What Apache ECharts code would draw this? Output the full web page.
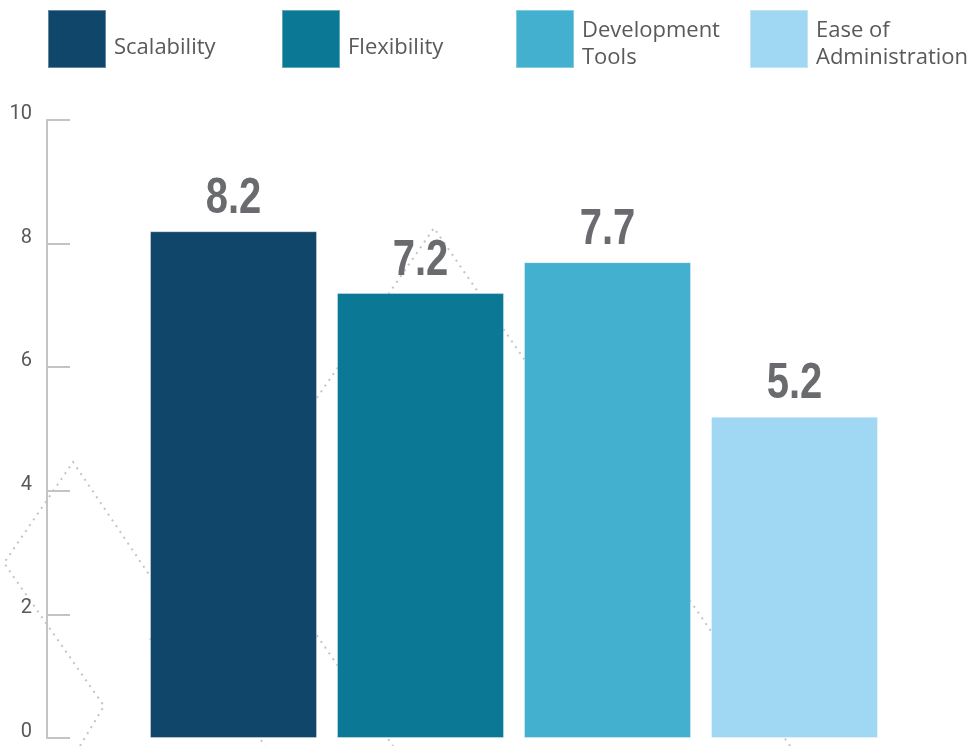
<!DOCTYPE html>
<html>
<head>
<meta charset="utf-8">
<title>Ratings</title>
<script src="https://cdn.jsdelivr.net/npm/echarts@6/dist/echarts.min.js"></script>
<style>
	html, body { margin: 0; padding: 0; background: #fff; }
	#chart { width: 974px; height: 746px; }
</style>
</head>
<body>
<div id="chart"></div>
<script>
	// data
	var categories = ['Scalability', 'Flexibility', 'Development Tools', 'Ease of Administration']
	var legendLabels = ['Scalability', 'Flexibility', 'Development\nTools', 'Ease of\nAdministration']
	var scores = [8.2, 7.2, 7.7, 5.2]
	var yTicks = [0, 2, 4, 6, 8, 10]

	var colorArr = ['#11466b', '#0b7895', '#43b0cf', '#a0d8f3']
	var legendLeft = [47, 281, 515, 749]

	var chart = echarts.init(document.getElementById('chart'))

	// one series per category, stacked so every bar sits centred in its own slot
	var seriesTemp = []
	for (var i = 0; i < categories.length; i++) {
		var row = []
		for (var j = 0; j < categories.length; j++) {
			row.push(i == j ? scores[j] : '-')
		}
		seriesTemp.push({
			name: categories[i],
			type: 'bar',
			stack: 'all',
			barWidth: 167,
			z: 2,
			itemStyle: {
				color: colorArr[i],
				borderColor: 'rgba(255,255,255,0.35)',
				borderWidth: 1
			},
			data: row
		})
	}

	// value labels: condensed bold look, no narrow font installed so squeeze a normal one
	seriesTemp.push({
		name: 'values',
		type: 'custom',
		z: 5,
		silent: true,
		data: scores.map(function (v, idx) { return [idx, v] }),
		renderItem: function (params, api) {
			var pt = api.coord([api.value(0), api.value(1)])
			return {
				type: 'text',
				x: pt[0],
				y: pt[1] - 7,
				scaleX: 0.8,
				style: {
					text: api.value(1).toFixed(1),
					fontFamily: 'Liberation Sans',
					fontWeight: 'bold',
					fontSize: 50,
					fill: '#6a6b6f',
					align: 'center',
					verticalAlign: 'bottom'
				}
			}
		}
	})

	var legends = []
	for (var k = 0; k < categories.length; k++) {
		var lines = legendLabels[k].split('\n')
		var txt = '{p| }'
		for (var m = 0; m < lines.length; m++) {
			txt += '\n{a|' + lines[m] + '}'
		}
		legends.push({
			left: legendLeft[k],
			top: 9,
			padding: 0,
			itemWidth: 58,
			itemHeight: 58,
			icon: 'rect',
			selectedMode: false,
			data: [categories[k]],
			formatter: (function (s) { return function () { return s } })(txt),
			textStyle: {
				fontFamily: 'Open Sans',
				fontSize: 22,
				color: '#58595b',
				rich: {
					p: { lineHeight: lines.length > 1 ? 11 : 18, fontSize: 4 },
					a: {
						fontFamily: 'Open Sans',
						fontSize: 22,
						lineHeight: 27,
						color: '#58595b',
						padding: [0, 0, 0, 3]
					}
				}
			}
		})
	}

	// faint dotted zig-zag behind the bars (decoration only)
	var dotStyle = {
		stroke: '#c4c4c4',
		lineWidth: 2,
		lineDash: [2, 5],
		fill: null
	}
	var deco = [
		[[80, 746], [104, 706], [4, 563], [73, 462], [265, 746]],
		[[150, 640], [434, 228], [790, 746]],
		[[170, 422], [393, 746]]
	]
	var graphics = []
	for (var d = 0; d < deco.length; d++) {
		graphics.push({
			type: 'polyline',
			z: 0,
			silent: true,
			shape: { points: deco[d] },
			style: dotStyle
		})
	}

	chart.setOption({
		animation: false,
		legend: legends,
		graphic: graphics,
		grid: {
			left: 140,
			right: 86,
			top: 120,
			bottom: 8,
			containLabel: false
		},
		xAxis: {
			type: 'category',
			data: categories,
			axisLine: { show: false },
			axisTick: { show: false },
			axisLabel: { show: false }
		},
		yAxis: {
			type: 'value',
			min: yTicks[0],
			max: yTicks[yTicks.length - 1],
			interval: 2,
			offset: 93,
			splitLine: { show: false },
			axisLine: {
				show: true,
				lineStyle: { color: '#c3c3c8', width: 2 }
			},
			axisTick: {
				show: true,
				inside: true,
				length: 23,
				lineStyle: { color: '#c3c3c8', width: 2 }
			},
			axisLabel: {
				margin: 15,
				fontFamily: 'Roboto',
				fontSize: 20,
				color: '#58595b',
				verticalAlign: 'bottom',
				lineHeight: 12
			}
		},
		series: seriesTemp
	})

	window.addEventListener('resize', function () {
		chart.resize()
	})
</script>
</body>
</html>
